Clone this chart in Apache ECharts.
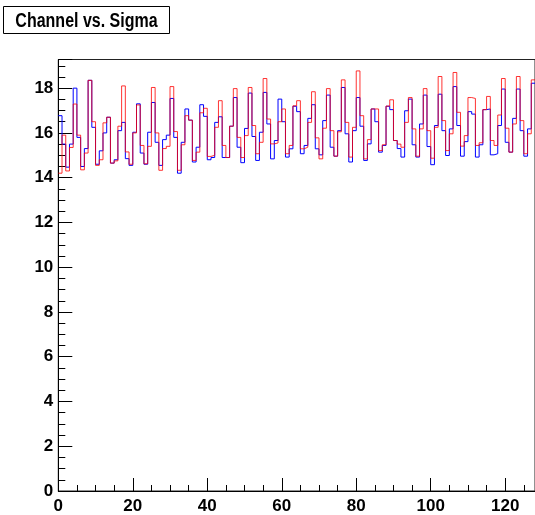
<!DOCTYPE html>
<html>
<head>
<meta charset="utf-8">
<script src="https://cdn.jsdelivr.net/npm/echarts@6/dist/echarts.min.js"></script>
<style>
html,body{margin:0;padding:0;background:#fff;}
#chart{width:535px;height:515px;}
</style>
</head>
<body>
<div id="chart"></div>
<script>
// Channel index (bin k spans [k, k+1])
var channels = [];
for (var c = 0; c < 128; c++) channels.push(c);

// Sigma per channel, blue histogram
var sigmaBlue = [
16.77,15.5,14.47,15.5,18.0,15.8,14.5,15.3,18.35,16.25,
14.6,15.2,16.0,16.7,14.65,14.8,16.1,16.47,14.85,14.55,
16.03,17.3,15.1,14.6,16.03,17.36,15.58,14.55,15.7,15.9,
17.54,15.8,14.2,15.58,17.07,16.57,14.7,15.36,17.26,16.74,
14.8,14.9,16.47,16.72,14.9,14.9,16.3,17.58,15.36,14.67,
16.2,17.78,15.84,14.77,16.03,17.81,16.4,14.84,15.66,17.51,
16.5,14.92,15.29,17.19,16.95,15.07,15.44,16.65,17.26,15.29,
15.02,16.55,17.69,15.36,14.96,16.1,18.03,15.96,14.7,16.1,
17.58,16.3,14.77,15.51,17.07,16.5,15.14,15.44,17.19,17.04,
15.66,15.3,14.92,16.99,17.51,15.47,14.92,16.4,17.69,15.39,
14.58,16.33,17.73,16.1,14.99,16.18,18.07,16.33,14.96,15.61,
16.95,16.84,14.92,15.47,17.04,17.07,15.02,15.07,16.33,17.96,
15.58,15.14,16.65,17.96,16.1,14.96,16.18,18.22
];

// Sigma per channel, red histogram
var sigmaRed = [
14.2,15.9,14.3,15.35,17.29,15.9,14.35,15.1,18.35,16.5,
14.55,14.8,16.45,16.7,14.65,14.75,16.3,18.1,15.15,14.6,
16.0,17.25,15.44,14.62,15.4,18.03,16.0,14.33,15.3,15.4,
18.07,16.06,14.33,15.47,16.77,16.57,14.77,15.14,16.9,17.1,
14.95,15.0,16.25,17.44,15.44,14.9,16.3,17.98,15.8,14.9,
15.88,18.03,16.33,15.07,15.58,18.43,16.62,15.51,15.55,16.5,
17.07,15.07,15.44,17.21,17.44,15.29,15.36,16.47,17.84,15.78,
14.84,16.21,17.98,16.1,14.96,16.05,18.37,16.47,14.92,16.25,
18.77,16.77,14.84,15.7,17.07,17.07,15.21,15.47,17.2,17.48,
15.66,15.5,15.36,16.47,17.58,16.18,14.96,16.18,17.98,16.1,
14.87,16.25,18.52,16.55,15.21,15.96,18.70,16.92,15.41,15.88,
17.58,17.54,15.44,15.56,17.04,17.63,15.66,15.44,16.80,18.43,
16.21,15.14,16.4,18.52,16.55,15.07,15.96,18.37
];

var xTickLabels = [0, 20, 40, 60, 80, 100, 120];
var yTickLabels = [0, 2, 4, 6, 8, 10, 12, 14, 16, 18];
var titleText = 'Channel vs. Sigma';

function stepData(vals) {
  var d = channels.map(function (ch, i) { return [ch, vals[i]]; });
  d.push([channels[channels.length - 1] + 1, vals[vals.length - 1]]);
  return d;
}

var FONT = "'Liberation Sans', Arial, sans-serif";

var chart = echarts.init(document.getElementById('chart'), null, {renderer: 'canvas'});
chart.setOption({
  animation: false,
  backgroundColor: '#ffffff',
  grid: {
    left: 58.3, top: 59.5, width: 477.2, height: 433.8,
    show: true, borderColor: '#222', borderWidth: 1, backgroundColor: 'transparent'
  },
  xAxis: {
    type: 'value', min: 0, max: 128, interval: 20,
    axisLine: {show: true, onZero: false, lineStyle: {color: '#000', width: 1}},
    axisTick: {show: true, inside: true, length: 13, lineStyle: {color: '#000'}},
    minorTick: {show: true, splitNumber: 4, length: 6, lineStyle: {color: '#000'}},
    splitLine: {show: false},
    axisLabel: {
      show: true, margin: 7, color: '#000', fontFamily: FONT, fontWeight: 'bold', fontSize: 17,
      showMaxLabel: false,
      formatter: function (v) { return xTickLabels.indexOf(v) >= 0 ? String(v) : ''; }
    }
  },
  yAxis: {
    type: 'value', min: 0, max: 19.28, interval: 2,
    axisLine: {show: true, onZero: false, lineStyle: {color: '#000', width: 1}},
    axisTick: {show: true, inside: true, length: 14, lineStyle: {color: '#000'}},
    minorTick: {show: true, splitNumber: 4, length: 7, lineStyle: {color: '#000'}},
    splitLine: {show: false},
    axisLabel: {
      show: true, margin: 5, color: '#000', fontFamily: FONT, fontWeight: 'bold', fontSize: 17,
      showMaxLabel: false,
      formatter: function (v) { return yTickLabels.indexOf(v) >= 0 ? String(v) : ''; }
    }
  },
  series: [
    {
      type: 'line', step: 'end', data: stepData(sigmaBlue), symbol: 'none',
      lineStyle: {color: '#0000ff', width: 1}, silent: true, z: 2
    },
    {
      type: 'line', step: 'end', data: stepData(sigmaRed), symbol: 'none',
      lineStyle: {color: '#ff0000', width: 1, opacity: 0.8}, silent: true, z: 3
    }
  ],
  graphic: [
    {
      type: 'rect', shape: {x: 3.5, y: 6.5, width: 166, height: 27},
      style: {fill: '#fff', stroke: '#000', lineWidth: 1}, z: 10
    },
    {
      type: 'text', x: 86.5, y: 21, scaleX: 0.8,
      style: {
        text: titleText, fill: '#000', font: "bold 20px " + FONT,
        textAlign: 'center', textVerticalAlign: 'middle'
      }, z: 11
    }
  ]
});
</script>
</body>
</html>
